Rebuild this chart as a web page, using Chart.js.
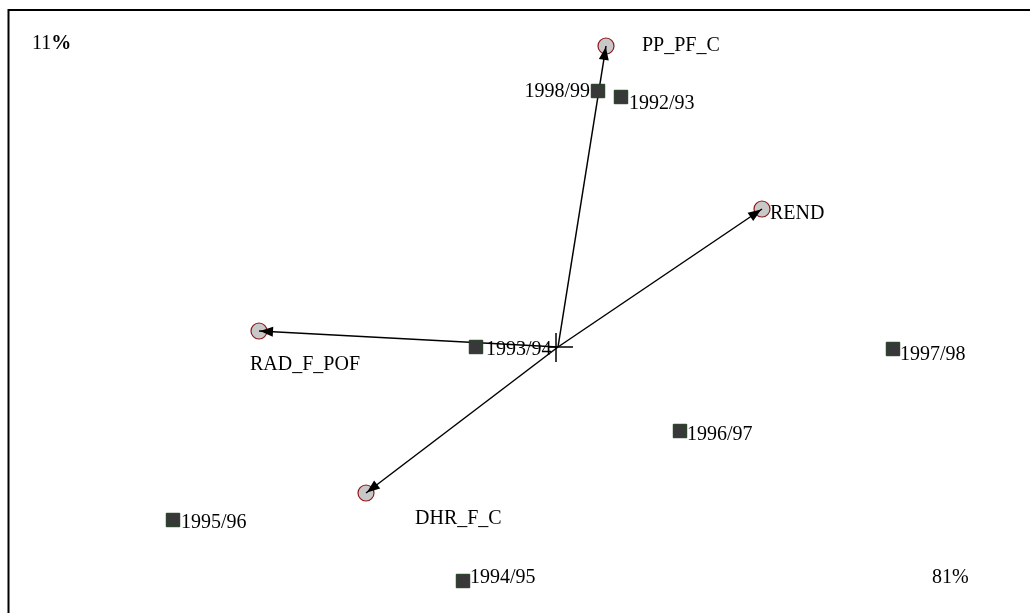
<!DOCTYPE html>
<html>
<head>
<meta charset="utf-8">
<script src="https://cdn.jsdelivr.net/npm/chart.js@4.4.1/dist/chart.umd.min.js"></script>
<style>
  html, body { margin: 0; padding: 0; background: #fff; }
  #wrap { width: 1030px; height: 613px; }
</style>
</head>
<body>
<div id="wrap"><canvas id="biplot"></canvas></div>
<script>
/* ===== scores of the seasons ===== */
const years  = ["1992/93","1993/94","1994/95","1995/96","1996/97","1997/98","1998/99"];
const yearX  = [0.63, -0.82, -0.95, -3.85, 1.22, 3.35, 0.40];
const yearY  = [2.50,  0.00, -2.34, -1.73, -0.84, -0.02, 2.56];

/* ===== variable loadings ===== */
const vars   = ["PP_PF_C","REND","RAD_F_POF","DHR_F_C"];
const varX   = [0.48, 2.04, -2.99, -1.92];
const varY   = [3.01, 1.38,  0.16, -1.46];

/* ===== axis inertia ===== */
const axis1Pct = "81%";
const axis2Pct = "11";

/* label offsets (px) and alignment */
const yearLabelPos = [[8,7,"left"],[10,3,"left"],[7,-3,"left"],[8,3,"left"],[7,4,"left"],[7,6,"left"],[-8,1,"right"]];
const varLabelPos  = [[36,0,"left"],[8,5,"left"],[46,34,"center"],[49,26,"left"]];

const FONT = '20px "Liberation Serif", "Times New Roman", serif';

const yearPts = years.map((_, i) => ({ x: yearX[i], y: yearY[i] }));
const varPts  = vars.map((_, i) => ({ x: varX[i], y: varY[i] }));

const arrowSets = varPts.map(p => ({
    type: "line",
    data: [{ x: 0, y: 0 }, p],
    borderColor: "#000",
    borderWidth: 1.5,
    pointRadius: 0,
    showLine: true,
    fill: false,
    order: 1
}));

/* ===== frame, cross, arrowheads, labels ===== */
const biplotDecor = {
    id: "biplotDecor",
    afterDatasetsDraw(chart) {
        const { ctx, scales: { x, y } } = chart;
        const ox = x.getPixelForValue(0), oy = y.getPixelForValue(0);
        ctx.save();

        // frame (top + left, the rest falls outside the picture)
        ctx.strokeStyle = "#000";
        ctx.lineWidth = 2;
        ctx.beginPath();
        ctx.moveTo(8.5, 613); ctx.lineTo(8.5, 10); ctx.lineTo(1030, 10);
        ctx.stroke();

        // origin cross
        ctx.lineWidth = 1.5;
        ctx.beginPath();
        ctx.moveTo(ox - 10, oy); ctx.lineTo(ox + 15, oy);
        ctx.moveTo(ox - 2, oy - 14); ctx.lineTo(ox - 2, oy + 15);
        ctx.stroke();

        // arrowheads
        ctx.fillStyle = "#000";
        varPts.forEach(p => {
            const px = x.getPixelForValue(p.x), py = y.getPixelForValue(p.y);
            const a = Math.atan2(py - oy, px - ox);
            const tx = px - 1 * Math.cos(a), ty = py - 1 * Math.sin(a);
            const L = 13, W = 5;
            ctx.beginPath();
            ctx.moveTo(tx, ty);
            ctx.lineTo(tx - L * Math.cos(a) + W * Math.sin(a), ty - L * Math.sin(a) - W * Math.cos(a));
            ctx.lineTo(tx - L * Math.cos(a) - W * Math.sin(a), ty - L * Math.sin(a) + W * Math.cos(a));
            ctx.closePath();
            ctx.fill();
        });

        // labels
        ctx.font = FONT;
        ctx.textBaseline = "middle";
        ctx.fillStyle = "#000";
        years.forEach((t, i) => {
            const [dx, dy, al] = yearLabelPos[i];
            ctx.textAlign = al;
            ctx.fillText(t, x.getPixelForValue(yearX[i]) + dx, y.getPixelForValue(yearY[i]) + dy);
        });
        vars.forEach((t, i) => {
            const [dx, dy, al] = varLabelPos[i];
            ctx.textAlign = al;
            ctx.fillText(t, x.getPixelForValue(varX[i]) + dx, y.getPixelForValue(varY[i]) + dy);
        });

        // inertia percentages
        ctx.textAlign = "left";
        ctx.fillText(axis2Pct, 32, 44);
        const w = ctx.measureText(axis2Pct).width;
        ctx.font = 'bold ' + FONT;
        ctx.fillText("%", 32 + w, 44);
        ctx.font = FONT;
        ctx.fillText(axis1Pct, 932, 578);

        ctx.restore();
    }
};

new Chart(document.getElementById("biplot"), {
    type: "scatter",
    data: {
        datasets: [
            {
                label: "years",
                data: yearPts,
                pointStyle: "rect",
                pointRadius: 9.5,
                backgroundColor: "#383838",
                borderColor: "#1e3a1e",
                borderWidth: 1,
                order: 0
            },
            {
                label: "variables",
                data: varPts,
                pointStyle: "circle",
                pointRadius: 8,
                backgroundColor: "#c8c8c8",
                borderColor: "#8b1a1a",
                borderWidth: 1.2,
                order: 2
            },
            ...arrowSets
        ]
    },
    options: {
        responsive: true,
        maintainAspectRatio: false,
        animation: false,
        layout: { padding: 0, autoPadding: false },
        plugins: {
            legend: { display: false },
            tooltip: { enabled: false }
        },
        scales: {
            x: { type: "linear", min: -5.58, max: 4.72, display: false },
            y: { type: "linear", min: -2.66, max: 3.47, display: false }
        }
    },
    plugins: [biplotDecor]
});
</script>
</body>
</html>
